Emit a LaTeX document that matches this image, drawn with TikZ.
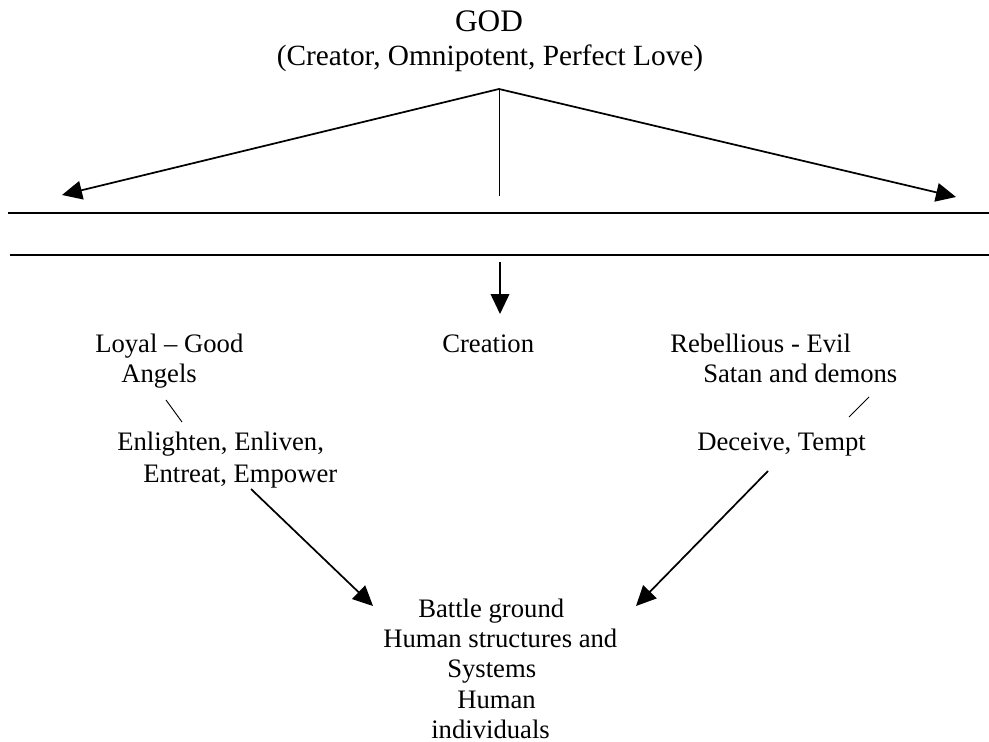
\documentclass[tikz,border=0pt]{standalone}
\usepackage{fontspec}
\setmainfont{Liberation Serif}
\usetikzlibrary{arrows.meta}
\begin{document}
\begin{tikzpicture}[x=0.75pt,y=-0.75pt,
  txt/.style={inner sep=0pt, anchor=base west, font=\fontsize{20}{24}\selectfont},
  big/.style={inner sep=0pt, anchor=base, font=\fontsize{22}{26}\selectfont},
  arr/.style={line width=1.3pt, -{Triangle[length=15pt,width=14pt]}},
  rule/.style={line width=1.3pt},
  thin/.style={line width=0.7pt}]
\useasboundingbox (0,0) rectangle (989,742);
% texts
\node[big, font=\fontsize{23.5}{28}\selectfont] (god) at (489,32) {GOD};
\node[big] (attr) at (490,66) {(Creator, Omnipotent, Perfect Love)};
\node[txt] (loyal) at (95,352) {Loyal – Good};
\node[txt] (angels) at (121,382) {Angels};
\node[txt] (creation) at (442,352) {Creation};
\node[txt] (rebel) at (670,352) {Rebellious - Evil};
\node[txt] (satan) at (703,382) {Satan and demons};
\node[txt] (enl) at (117,450) {Enlighten, Enliven,};
\node[txt] (ent) at (143,482) {Entreat, Empower};
\node[txt] (dec) at (697,450) {Deceive, Tempt};
\node[txt] (b1) at (418,617) {Battle ground};
\node[txt] (b2) at (383,647) {Human structures and};
\node[txt] (b3) at (447,677) {Systems};
\node[txt] (b4) at (457,708) {Human};
\node[txt] (b5) at (431,738) {individuals};
% coordinates
\coordinate (apex) at (499,89);
\coordinate (ltip) at (62,195);
\coordinate (rtip) at (956,197);
\coordinate (vbot) at (499,196);
\coordinate (h1a) at (8,213);
\coordinate (h1b) at (989,213);
\coordinate (h2a) at (10,255);
\coordinate (h2b) at (989,255);
\coordinate (dtop) at (500,262);
\coordinate (dtip) at (500,314);
\coordinate (s1a) at (166,400);
\coordinate (s1b) at (182,422);
\coordinate (s2a) at (869,397);
\coordinate (s2b) at (849,417);
\coordinate (la) at (251,489);
\coordinate (lb) at (373,606);
\coordinate (ra) at (768,471);
\coordinate (rb) at (636,606);
% connectors
\draw[arr] (apex) -- (ltip);
\draw[arr] (apex) -- (rtip);
\draw[thin] (apex) -- (vbot);
\draw[rule] (h1a) -- (h1b);
\draw[rule] (h2a) -- (h2b);
\draw[arr] (dtop) -- (dtip);
\draw[thin] (s1a) -- (s1b);
\draw[thin] (s2a) -- (s2b);
\draw[arr] (la) -- (lb);
\draw[arr] (ra) -- (rb);
\end{tikzpicture}
\end{document}
